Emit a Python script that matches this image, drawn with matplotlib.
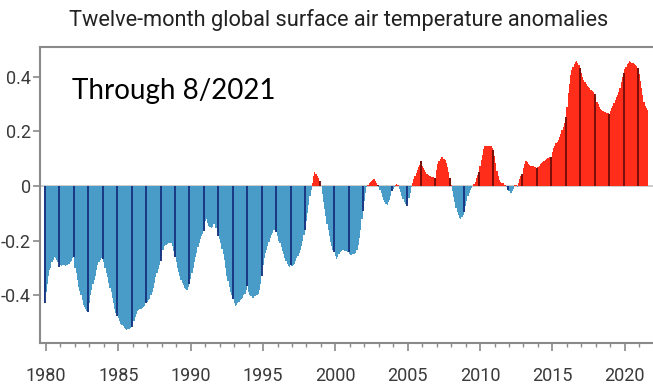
import numpy as np
import matplotlib.pyplot as plt

# twelve-month running mean anomalies, one value per month, Dec 1979 .. Aug 2021
a1979 = [-0.43]
a1980 = [-0.39, -0.36, -0.33, -0.31, -0.30, -0.28, -0.27, -0.26, -0.265, -0.27, -0.28, -0.296]
a1981 = [-0.29, -0.295, -0.29, -0.29, -0.295, -0.29, -0.29, -0.285, -0.28, -0.275, -0.265, -0.262]
a1982 = [-0.30, -0.32, -0.345, -0.37, -0.385, -0.40, -0.42, -0.435, -0.445, -0.45, -0.457, -0.462]
a1983 = [-0.43, -0.40, -0.38, -0.36, -0.345, -0.33, -0.31, -0.29, -0.278, -0.27, -0.265, -0.266]
a1984 = [-0.28, -0.30, -0.32, -0.335, -0.355, -0.375, -0.39, -0.41, -0.43, -0.45, -0.465, -0.477]
a1985 = [-0.485, -0.495, -0.505, -0.51, -0.515, -0.52, -0.525, -0.528, -0.526, -0.525, -0.52, -0.519]
a1986 = [-0.51, -0.495, -0.48, -0.47, -0.46, -0.455, -0.45, -0.452, -0.448, -0.445, -0.44, -0.43]
a1987 = [-0.425, -0.42, -0.415, -0.40, -0.39, -0.375, -0.355, -0.335, -0.32, -0.305, -0.29, -0.275]
a1988 = [-0.255, -0.235, -0.22, -0.218, -0.215, -0.214, -0.21, -0.208, -0.21, -0.22, -0.238, -0.26]
a1989 = [-0.28, -0.30, -0.315, -0.33, -0.345, -0.355, -0.365, -0.373, -0.378, -0.38, -0.372, -0.36]
a1990 = [-0.34, -0.32, -0.30, -0.28, -0.26, -0.245, -0.225, -0.21, -0.195, -0.185, -0.175, -0.165]
a1991 = [-0.13, -0.12, -0.135, -0.145, -0.15, -0.153, -0.15, -0.14, -0.14, -0.155, -0.17, -0.183]
a1992 = [-0.195, -0.21, -0.23, -0.25, -0.27, -0.30, -0.33, -0.35, -0.37, -0.39, -0.40, -0.415]
a1993 = [-0.43, -0.44, -0.435, -0.43, -0.425, -0.42, -0.415, -0.41, -0.40, -0.395, -0.38, -0.367]
a1994 = [-0.39, -0.40, -0.405, -0.41, -0.41, -0.405, -0.405, -0.40, -0.395, -0.38, -0.36, -0.33]
a1995 = [-0.29, -0.265, -0.245, -0.235, -0.22, -0.205, -0.19, -0.18, -0.172, -0.163, -0.165, -0.17]
a1996 = [-0.185, -0.20, -0.21, -0.225, -0.24, -0.25, -0.265, -0.275, -0.285, -0.292, -0.298, -0.29]
a1997 = [-0.295, -0.29, -0.285, -0.275, -0.265, -0.255, -0.245, -0.235, -0.22, -0.20, -0.18, -0.163]
a1998 = [-0.13, -0.10, -0.07, -0.035, -0.015, 0.01, 0.035, 0.05, 0.045, 0.035, 0.028, 0.02]
a1999 = [0.0, -0.03, -0.06, -0.085, -0.11, -0.14, -0.16, -0.185, -0.205, -0.22, -0.235, -0.243]
a2000 = [-0.255, -0.267, -0.26, -0.25, -0.243, -0.238, -0.234, -0.235, -0.238, -0.24, -0.243, -0.243]
a2001 = [-0.25, -0.252, -0.25, -0.25, -0.25, -0.245, -0.235, -0.215, -0.19, -0.16, -0.12, -0.09]
a2002 = [-0.055, -0.025, -0.005, 0.005, 0.01, 0.015, 0.02, 0.023, 0.025, 0.02, 0.012, 0.005]
a2003 = [-0.005, -0.015, -0.026, -0.04, -0.05, -0.06, -0.067, -0.07, -0.06, -0.05, -0.035, -0.02]
a2004 = [-0.012, -0.005, 0.003, 0.006, 0.002, -0.01, -0.022, -0.035, -0.047, -0.058, -0.066, -0.075]
a2005 = [-0.065, -0.045, -0.025, -0.005, 0.01, 0.025, 0.035, 0.048, 0.06, 0.07, 0.078, 0.09]
a2006 = [0.075, 0.065, 0.058, 0.05, 0.045, 0.042, 0.038, 0.035, 0.033, 0.032, 0.03, 0.03]
a2007 = [0.06, 0.08, 0.09, 0.1, 0.105, 0.108, 0.1, 0.095, 0.085, 0.07, 0.05, 0.03]
a2008 = [0.005, -0.02, -0.04, -0.06, -0.08, -0.095, -0.108, -0.118, -0.12, -0.115, -0.105, -0.096]
a2009 = [-0.075, -0.055, -0.035, -0.025, -0.015, -0.008, 0.0, 0.008, 0.015, 0.028, 0.04, 0.052]
a2010 = [0.075, 0.095, 0.115, 0.135, 0.145, 0.148, 0.148, 0.148, 0.147, 0.145, 0.14, 0.132]
a2011 = [0.11, 0.085, 0.055, 0.035, 0.022, 0.015, 0.012, 0.01, 0.005, 0.003, -0.005, -0.015]
a2012 = [-0.02, -0.025, -0.027, -0.02, -0.01, 0.003, 0.002, -0.003, 0.01, 0.025, 0.035, 0.045]
a2013 = [0.065, 0.08, 0.092, 0.088, 0.082, 0.078, 0.074, 0.073, 0.072, 0.071, 0.068, 0.065]
a2014 = [0.07, 0.075, 0.08, 0.085, 0.088, 0.092, 0.096, 0.1, 0.102, 0.104, 0.106, 0.107]
a2015 = [0.125, 0.14, 0.148, 0.156, 0.162, 0.17, 0.178, 0.19, 0.205, 0.216, 0.232, 0.254]
a2016 = [0.29, 0.34, 0.375, 0.407, 0.425, 0.437, 0.448, 0.456, 0.457, 0.452, 0.445, 0.433]
a2017 = [0.415, 0.40, 0.39, 0.38, 0.374, 0.368, 0.363, 0.358, 0.354, 0.349, 0.344, 0.339]
a2018 = [0.325, 0.31, 0.30, 0.29, 0.284, 0.278, 0.274, 0.272, 0.27, 0.268, 0.267, 0.266]
a2019 = [0.275, 0.285, 0.295, 0.305, 0.315, 0.325, 0.335, 0.345, 0.36, 0.38, 0.40, 0.415]
a2020 = [0.428, 0.437, 0.447, 0.453, 0.457, 0.455, 0.452, 0.45, 0.447, 0.444, 0.44, 0.433]
a2021 = [0.41, 0.385, 0.36, 0.335, 0.31, 0.295, 0.285, 0.28]

years = [a1979, a1980, a1981, a1982, a1983, a1984, a1985, a1986, a1987, a1988,
         a1989, a1990, a1991, a1992, a1993, a1994, a1995, a1996, a1997, a1998,
         a1999, a2000, a2001, a2002, a2003, a2004, a2005, a2006, a2007, a2008,
         a2009, a2010, a2011, a2012, a2013, a2014, a2015, a2016, a2017, a2018,
         a2019, a2020, a2021]
anom = np.concatenate(years)
t = 1979 + 11 / 12 + np.arange(len(anom)) / 12

warm, cool = '#ff2d1a', '#4a9cc8'
warm_dk, cool_dk = '#6e0c08', '#16307e'
sans = ['Roboto', 'DejaVu Sans']
gray = '#8a8a8a'

fig = plt.figure(figsize=(6.53, 3.89), dpi=100)
ax = fig.add_axes([40 / 653, 46 / 389, 613 / 653, 296 / 389])

ax.bar(t, anom, width=1 / 12, color=np.where(anom >= 0, warm, cool),
       linewidth=0, zorder=2)
# December bars drawn darker
dec = np.arange(len(anom)) % 12 == 0
ax.vlines(t[dec], 0, anom[dec], colors=np.where(anom[dec] >= 0, warm_dk, cool_dk),
          linewidth=1.3, zorder=3)
ax.axhline(0, color='#c4c4c4', linewidth=1.2, zorder=1)

ax.set_xlim(1979.585, 2021.95)
ax.set_ylim(-0.576, 0.51)

ax.set_xticks(range(1980, 2021, 5))
ax.set_xticks(range(1980, 2022), minor=True)
ax.set_yticks([-0.4, -0.2, 0, 0.2, 0.4])
ax.set_yticklabels(['-0.4', '-0.2', '0', '0.2', '0.4'])
ax.tick_params(axis='x', which='major', length=6, width=1.2, color=gray, pad=11)
ax.tick_params(axis='x', which='minor', length=3, width=1.0, color=gray)
ax.tick_params(axis='y', length=5, width=1.2, color=gray, pad=1.5)
for lab in ax.get_xticklabels() + ax.get_yticklabels():
    lab.set_family(sans)
    lab.set_fontsize(13)
    lab.set_color('#3a3a3a')

ax.spines['right'].set_visible(False)
for side in ['top', 'left', 'bottom']:
    ax.spines[side].set_color(gray)
    ax.spines[side].set_linewidth(1.5)

fig.text(339 / 653, 1 - 26 / 389, 'Twelve-month global surface air temperature anomalies',
         ha='center', va='baseline', family=sans, fontsize=15.7, color='#222222')
fig.text(72 / 653, 1 - 99 / 389, 'Through 8/2021', ha='left', va='baseline',
         family=['Lato', 'DejaVu Sans'], fontsize=20, color='black')

fig.savefig('out.png', dpi=100)
